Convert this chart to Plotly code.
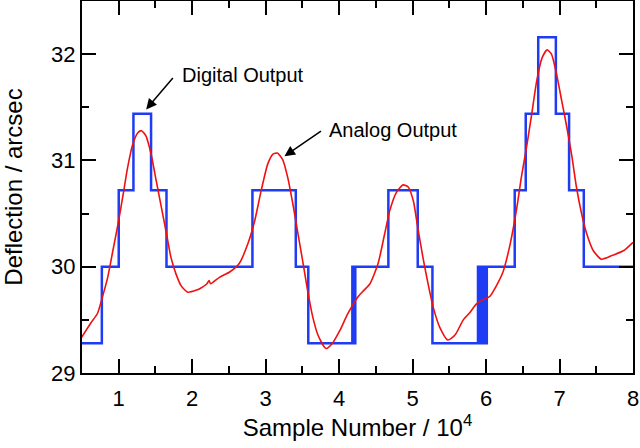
import plotly.graph_objects as go

# analog output (red), sample number / 1e4 vs deflection in arcsec
analog_x = [0.49, 0.62, 0.71, 0.78, 0.85, 0.92, 0.99, 1.06, 1.12, 1.19, 1.26, 1.31, 1.37, 1.44,
            1.51, 1.58, 1.65, 1.71, 1.78, 1.85, 1.94, 2.06, 2.12, 2.2, 2.23, 2.25, 2.37, 2.51,
            2.64, 2.76, 2.85, 2.94, 3.03, 3.10, 3.16, 3.23, 3.30, 3.37, 3.44, 3.51, 3.57,
            3.64, 3.71, 3.82, 3.91, 4.01, 4.12, 4.26, 4.34, 4.42, 4.53, 4.62, 4.69, 4.78,
            4.87, 4.94, 5.01, 5.07, 5.14, 5.21, 5.28, 5.37, 5.48, 5.58, 5.69, 5.78, 5.87,
            5.96, 6.05, 6.14, 6.23, 6.33, 6.42, 6.48, 6.55, 6.62, 6.69, 6.76, 6.83, 6.89,
            6.96, 7.03, 7.10, 7.17, 7.23, 7.30, 7.37, 7.46, 7.57, 7.73, 7.87, 8.0]
analog_y = [29.33, 29.47, 29.56, 29.72, 29.90, 30.15, 30.40, 30.68, 30.93, 31.15, 31.26, 31.28,
            31.23, 31.06, 30.81, 30.56, 30.31, 30.09, 29.93, 29.82, 29.76, 29.78, 29.80, 29.84,
            29.87, 29.84, 29.90, 29.95, 30.03, 30.22, 30.43, 30.72, 30.97, 31.06, 31.07, 31.01,
            30.84, 30.59, 30.31, 30.03, 29.78, 29.53, 29.36, 29.23, 29.28, 29.40, 29.56, 29.72,
            29.78, 29.84, 30.03, 30.31, 30.53, 30.70, 30.77, 30.75, 30.62, 30.37, 30.09, 29.84,
            29.62, 29.43, 29.31, 29.36, 29.50, 29.57, 29.65, 29.69, 29.72, 29.82, 29.95, 30.22,
            30.56, 30.84, 31.12, 31.43, 31.75, 31.96, 32.04, 32.00, 31.81, 31.56, 31.31, 31.03,
            30.75, 30.50, 30.31, 30.15, 30.07, 30.11, 30.15, 30.23]

# digital output (blue), switching points and the level held after each switch
digital_x = [0.5, 0.77, 1.0, 1.2, 1.44, 1.65, 2.82, 3.41, 3.58,
             4.18, 4.19, 4.20, 4.21, 4.22, 4.23,
             4.67, 5.07, 5.27,
             5.89, 5.90, 5.91, 5.92, 5.93, 5.94, 5.95, 5.96, 5.97, 5.98, 5.99, 6.00, 6.01, 6.02,
             6.39, 6.54, 6.71, 6.95, 7.13, 7.33, 8.0]
digital_y = [29.28, 30.0, 30.72, 31.44, 30.72, 30.0, 30.72, 30.0, 29.28,
             30.0, 29.28, 30.0, 29.28, 30.0, 30.0,
             30.72, 30.0, 29.28,
             30.0, 29.28, 30.0, 29.28, 30.0, 29.28, 30.0, 29.28, 30.0, 29.28, 30.0, 29.28, 30.0, 30.0,
             30.72, 31.44, 32.16, 31.44, 30.72, 30.0, 30.0]

FONT = "Liberation Sans, Arial, sans-serif"

fig = go.Figure()
fig.add_trace(go.Scatter(x=digital_x, y=digital_y, mode="lines", line_shape="hv",
                         line=dict(color="#1f3cf5", width=2.5), showlegend=False))
fig.add_trace(go.Scatter(x=analog_x, y=analog_y, mode="lines", line_shape="spline",
                         line=dict(color="#f01010", width=1.6, smoothing=0.6), showlegend=False))

# labels with arrows
fig.add_annotation(x=1.373, y=31.48, text="", showarrow=True, ax=28, ay=-33,
                   arrowhead=2, arrowsize=1.4, arrowwidth=1.5, arrowcolor="black")
fig.add_annotation(x=1.84, y=31.80, text="Digital Output", showarrow=False, xanchor="left",
                   font=dict(family=FONT, size=20, color="black"))
fig.add_annotation(x=3.256, y=31.04, text="", showarrow=True, ax=38, ay=-26,
                   arrowhead=2, arrowsize=1.4, arrowwidth=1.5, arrowcolor="black")
fig.add_annotation(x=3.84, y=31.29, text="Analog Output", showarrow=False, xanchor="left",
                   font=dict(family=FONT, size=20, color="black"))

axis_common = dict(showline=True, linecolor="black", linewidth=2, mirror="ticks",
                   ticks="inside", ticklen=14, tickwidth=2, tickcolor="black",
                   showgrid=False, zeroline=False, automargin=False,
                   tickfont=dict(family=FONT, size=22, color="black"))

fig.update_xaxes(range=[0.5, 8], dtick=1, tick0=0, ticklabelstandoff=5,
                 minor=dict(ticks="inside", ticklen=7, tickwidth=2, tickcolor="black", dtick=0.5),
                 title=dict(text="Sample Number / 10<sup>4</sup>",
                            font=dict(family=FONT, size=24, color="black"), standoff=4),
                 **axis_common)
fig.update_yaxes(range=[29, 32.5], dtick=1, tick0=0,
                 minor=dict(ticks="inside", ticklen=7, tickwidth=2, tickcolor="black", dtick=0.5),
                 title=dict(text="Deflection / arcsec",
                            font=dict(family=FONT, size=24, color="black"), standoff=25),
                 **axis_common)

fig.update_layout(width=640, height=448, margin=dict(l=82, r=7, t=1, b=75),
                  plot_bgcolor="white", paper_bgcolor="white",
                  font=dict(family=FONT, color="black"))

# page body has a default 8px margin; drop it so the figure fills the window
fig.write_html("out.html", config={"displayModeBar": False},
               post_script="document.body.style.margin='0';")
